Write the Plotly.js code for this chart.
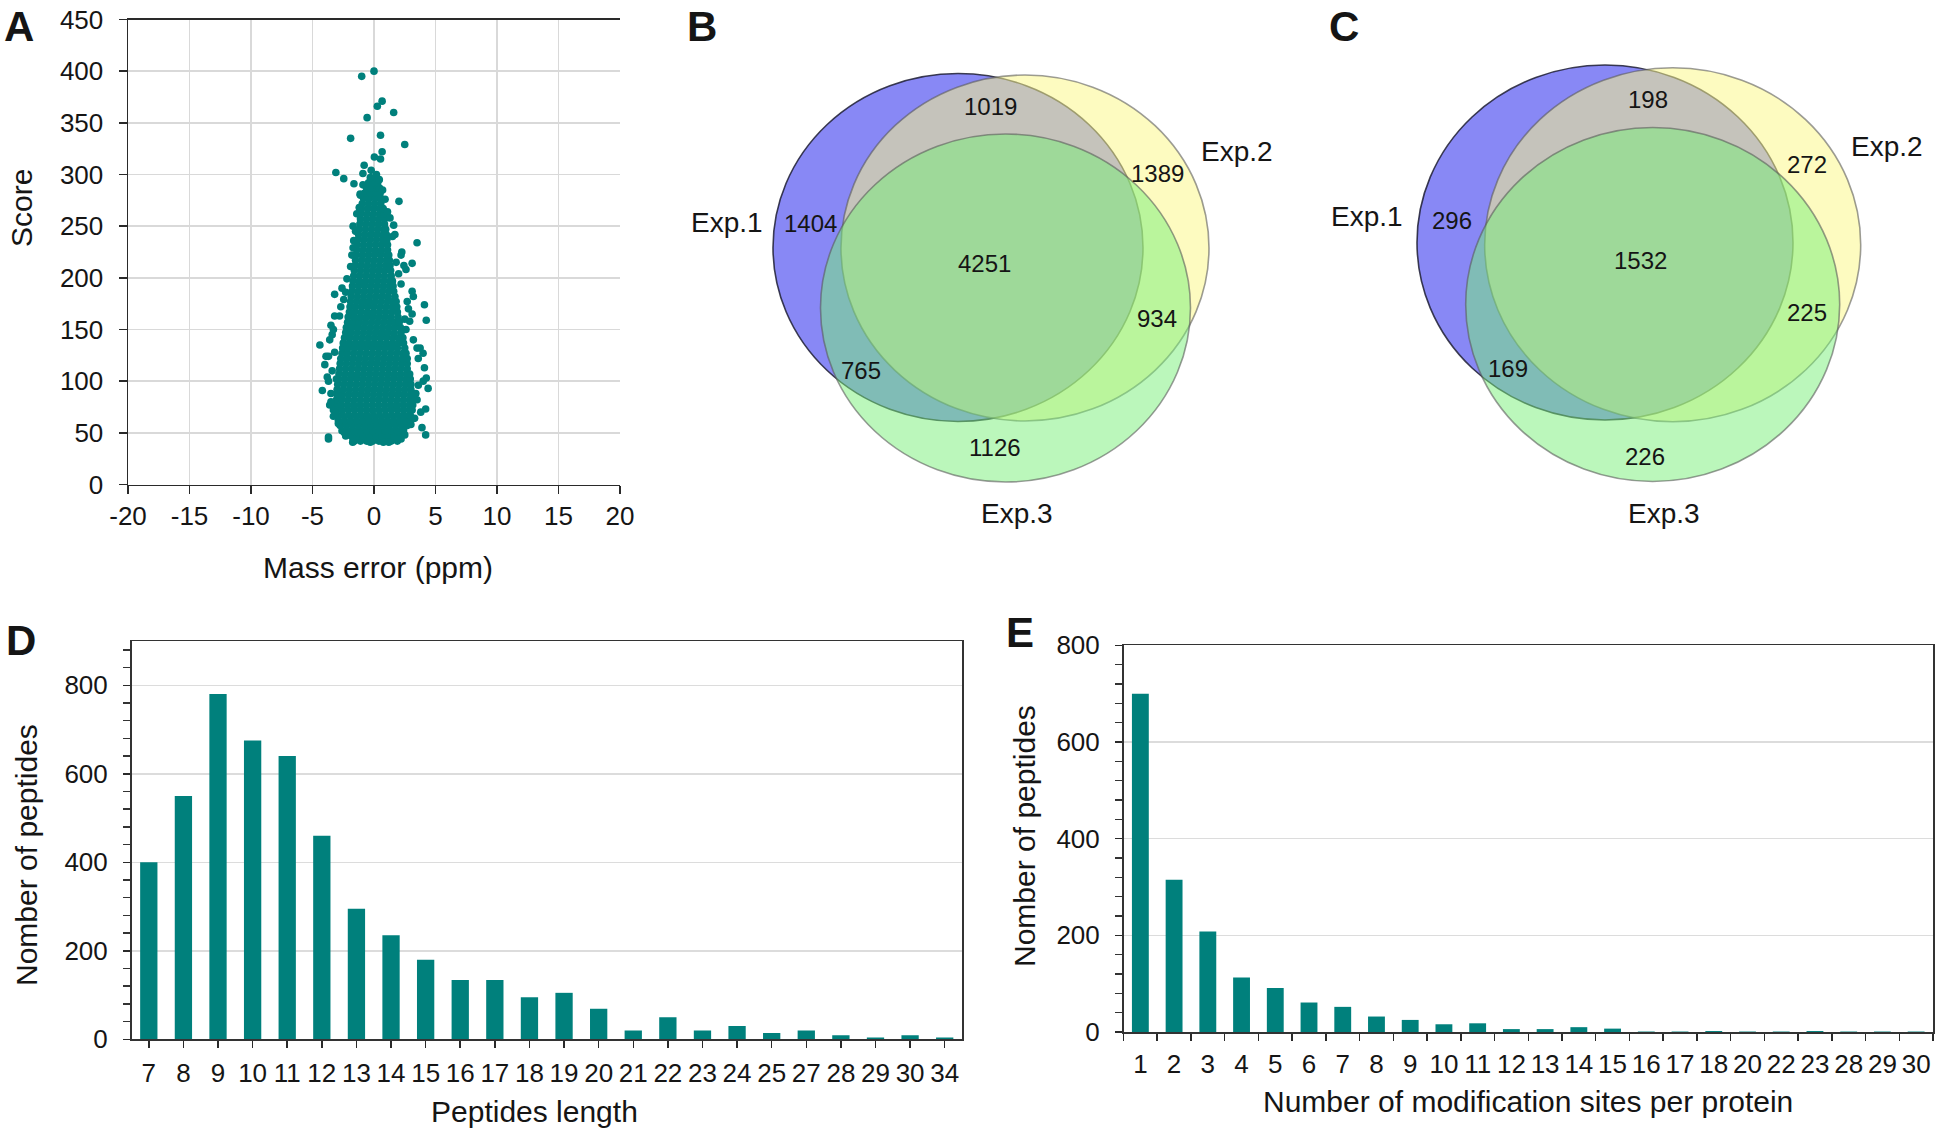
<!DOCTYPE html>
<html>
<head>
<meta charset="utf-8">
<script src="https://cdn.plot.ly/plotly-3.0.1.min.js"></script>
<style>html,body{margin:0;padding:0;background:#fff;}#fig{width:1944px;height:1129px;}</style>
</head>
<body>
<div id="fig"></div>
<script>
// ---------------- DATA ----------------
// Panel A: mass error (ppm) vs score, dense core read row by row: [score, [mass errors]]
const scoreRows = [
 [42,[-1.6,-1.1,-0.6,-0.1,0.4,0.9,1.4,1.9]],
 [47,[-2.3,-1.85,-1.35,-0.85,-0.35,0.15,0.65,1.15,1.65,2.15]],
 [52,[-2.6,-2.1,-1.6,-1.1,-0.6,-0.1,0.4,0.9,1.4,1.9,2.4]],
 [57,[-2.75,-2.25,-1.75,-1.25,-0.75,-0.25,0.25,0.75,1.25,1.75,2.25,2.7]],
 [62,[-2.9,-2.4,-1.9,-1.4,-0.9,-0.4,0.1,0.6,1.1,1.6,2.1,2.6,2.95]],
 [67,[-3.0,-2.55,-2.05,-1.55,-1.05,-0.55,-0.05,0.45,0.95,1.45,1.95,2.45,2.95]],
 [72,[-3.05,-2.6,-2.1,-1.6,-1.1,-0.6,-0.1,0.4,0.9,1.4,1.9,2.4,2.9,3.1]],
 [77,[-3.1,-2.65,-2.15,-1.65,-1.15,-0.65,-0.15,0.35,0.85,1.35,1.85,2.35,2.85,3.15]],
 [82,[-3.05,-2.6,-2.1,-1.6,-1.1,-0.6,-0.1,0.4,0.9,1.4,1.9,2.4,2.9,3.15]],
 [87,[-3.0,-2.55,-2.05,-1.55,-1.05,-0.55,-0.05,0.45,0.95,1.45,1.95,2.45,2.95,3.1]],
 [92,[-3.0,-2.5,-2.0,-1.5,-1.0,-0.5,0.0,0.5,1.0,1.5,2.0,2.5,3.0]],
 [97,[-2.95,-2.45,-1.95,-1.45,-0.95,-0.45,0.05,0.55,1.05,1.55,2.05,2.55,3.0]],
 [102,[-2.9,-2.4,-1.9,-1.4,-0.9,-0.4,0.1,0.6,1.1,1.6,2.1,2.6,2.95]],
 [107,[-2.85,-2.35,-1.85,-1.35,-0.85,-0.35,0.15,0.65,1.15,1.65,2.15,2.65,2.9]],
 [112,[-2.8,-2.3,-1.8,-1.3,-0.8,-0.3,0.2,0.7,1.2,1.7,2.2,2.7]],
 [117,[-2.75,-2.25,-1.75,-1.25,-0.75,-0.25,0.25,0.75,1.25,1.75,2.25,2.7]],
 [122,[-2.7,-2.2,-1.7,-1.2,-0.7,-0.2,0.3,0.8,1.3,1.8,2.3,2.7]],
 [127,[-2.6,-2.15,-1.65,-1.15,-0.65,-0.15,0.35,0.85,1.35,1.85,2.35,2.6]],
 [132,[-2.55,-2.1,-1.6,-1.1,-0.6,-0.1,0.4,0.9,1.4,1.9,2.5]],
 [137,[-2.5,-2.0,-1.5,-1.0,-0.5,0.0,0.5,1.0,1.5,2.0,2.4]],
 [142,[-2.4,-1.95,-1.45,-0.95,-0.45,0.05,0.55,1.05,1.55,2.0,2.35]],
 [147,[-2.3,-1.85,-1.35,-0.85,-0.35,0.15,0.65,1.15,1.65,2.2]],
 [152,[-2.25,-1.8,-1.3,-0.8,-0.3,0.2,0.7,1.2,1.7,2.15]],
 [157,[-2.15,-1.7,-1.2,-0.7,-0.2,0.3,0.8,1.3,1.75,2.05]],
 [162,[-2.1,-1.6,-1.1,-0.6,-0.1,0.4,0.9,1.4,1.95]],
 [167,[-2.0,-1.55,-1.05,-0.55,-0.05,0.45,0.95,1.45,1.9]],
 [172,[-1.95,-1.5,-1.0,-0.5,0.0,0.5,1.0,1.5,1.85]],
 [177,[-1.9,-1.4,-0.9,-0.4,0.1,0.6,1.1,1.55,1.8]],
 [182,[-1.85,-1.35,-0.85,-0.35,0.15,0.65,1.15,1.7]],
 [187,[-1.8,-1.3,-0.8,-0.3,0.2,0.7,1.2,1.6]],
 [192,[-1.75,-1.25,-0.75,-0.25,0.25,0.75,1.25,1.55]],
 [197,[-1.7,-1.2,-0.7,-0.2,0.3,0.8,1.3,1.5]],
 [202,[-1.65,-1.15,-0.65,-0.15,0.35,0.85,1.4]],
 [207,[-1.6,-1.1,-0.6,-0.1,0.4,0.9,1.35]],
 [212,[-1.55,-1.05,-0.55,-0.05,0.45,0.95,1.3]],
 [217,[-1.5,-1.0,-0.5,0.0,0.5,1.0,1.25]],
 [222,[-1.45,-0.95,-0.45,0.05,0.55,1.05,1.2]],
 [227,[-1.4,-0.9,-0.4,0.1,0.6,1.1]],
 [232,[-1.35,-0.85,-0.35,0.15,0.65,1.1]],
 [237,[-1.3,-0.8,-0.3,0.2,0.7,1.05]],
 [242,[-1.25,-0.75,-0.25,0.25,0.75,1.0]],
 [247,[-1.2,-0.7,-0.2,0.3,0.8,0.95]],
 [252,[-1.15,-0.65,-0.15,0.35,0.85]],
 [257,[-1.1,-0.6,-0.1,0.4,0.85]],
 [262,[-1.05,-0.55,-0.05,0.45,0.8]],
 [267,[-1.0,-0.5,0.0,0.5,0.75]],
 [272,[-0.95,-0.45,0.05,0.55]],
 [277,[-0.85,-0.4,0.1,0.55]],
 [282,[-0.75,-0.3,0.2,0.5]],
 [287,[-0.6,-0.2,0.25,0.45]],
 [292,[-0.45,-0.05,0.3]],
 [297,[-0.3,0.1]]
];
// Panel A: scattered points around the core
const outlierMassErr = [-3.3,-3.5,-3.2,-3.2,-2.46,-2.2,-2.6,-4.4,-3.7,-3.9,-4.0,-3.8,-3.7,-4.2,-3.6,-3.5,-3.7,-3.7,-3.06,-3.2,-2.9,-3.3,-3.3,-3.5,-3.4,-3.6,-3.4,-2.8,-2.7,-2.3,-1.9,-1.8,-1.7,-1.65,-1.5,-1.7,-1.4,-1.2,-1.1,-0.9,-0.8,-0.9,-1.13,-1.63,-2.46,-3.1,-1.9,-1.0,-0.56,
 0,0.66,0.27,1.6,0.53,2.5,0.66,0.03,0.53,-0.23,0.43,0.2,0.7,0.9,2.03,1.1,1.6,1.3,1.5,1.7,3.5,2.26,2.2,3.1,2.43,2.6,2.0,1.8,2.2,3.1,3.2,2.7,2.8,4.1,3.1,2.9,4.25,2.5,2.6,3.2,3.5,3.75,3.99,3.6,4.1,4.25,4.4,4.0,3.6,3.4,3.5,4.2,3.8,3.3,3.9,4.2,3.0,2.5,2.2,1.9,0.76,1.2,-0.3,-1.73,-1.7,-2.4];
const outlierScore = [150,154,163,184,179,199,190,135,124,124,116,104,100,91,77,80,46,44,102,128,59,66,72,88,110,140,145,163,172,186,211,222,229,236,245,250,262,268,280,290,309,301,281,291,296,302,335,395,355,
 400,371,366,360,338,329,322,317,315,304,295,300,285,276,274,264,251,258,240,242,234,225,222,214,212,208,204,215,194,187,182,177,170,174,165,158,159,160,150,140,132,132,127,122,113,103,93,100,96,88,82,73,70,64,55,48,58,48,44,44,41,41,41,41,44,50];
// Panel A tick labels (plain hyphen minus, as printed)
const massTickVals = [-20,-15,-10,-5,0,5,10,15,20];
const massTickText = ['-20','-15','-10','-5','0','5','10','15','20'];

// Panel B / C: Venn region counts
const vennRegions = ['Exp.1 only','Exp.1 & Exp.2','Exp.2 only','Exp.1 & Exp.2 & Exp.3','Exp.1 & Exp.3','Exp.2 & Exp.3','Exp.3 only'];
const vennSets = ['Exp.1','Exp.2','Exp.3'];
const vennCountsB = [1404,1019,1389,4251,765,934,1126];
const vennCountsC = [296,198,272,1532,169,225,226];

// Panel D: peptide length distribution
const lengthCats = ['7','8','9','10','11','12','13','14','15','16','17','18','19','20','21','22','23','24','25','27','28','29','30','34'];
const lengthCounts = [400,550,780,675,640,460,295,235,180,134,134,95,105,69,20,50,20,30,14,20,9,4,9,4];

// Panel E: modification sites per protein
const siteCats = ['1','2','3','4','5','6','7','8','9','10','11','12','13','14','15','16','17','18','20','22','23','28','29','30'];
const siteCounts = [700,315,208,113,91,61,52,32,25,16,18,6,6,10,7,1,1,2,1,1,2,1,1,1];

// ---------------- LAYOUT / STYLE ----------------
const W = 1944, H = 1129;
const fx = x => x / W;
const fy = y => 1 - y / H;
const FONT = 'Liberation Sans, Arial, Helvetica, sans-serif';
const TEAL = '#00807c';
const TXT = '#151515';

const massErr = [], score = [];
scoreRows.forEach(r => r[1].forEach(v => { massErr.push(v); score.push(r[0]); }));
outlierMassErr.forEach((v, i) => { massErr.push(v); score.push(outlierScore[i]); });

const traces = [
  {type:'scatter', mode:'markers', x:massErr, y:score, xaxis:'x', yaxis:'y',
   marker:{color:TEAL, size:7.6, line:{width:0}}, hoverinfo:'x+y'},
  {type:'bar', x:lengthCats, y:lengthCounts, xaxis:'x2', yaxis:'y2',
   marker:{color:TEAL, line:{width:0}}},
  {type:'bar', x:siteCats, y:siteCounts, xaxis:'x3', yaxis:'y3',
   marker:{color:TEAL, line:{width:0}}}
];

const tickFont = {family:FONT, size:26, color:TXT};
const axLine = {showline:true, linecolor:'#2a2a2a', linewidth:1.5, ticks:'outside', ticklen:8, tickwidth:1.5, tickcolor:'#2a2a2a', zeroline:false, tickfont:tickFont, fixedrange:true};

// Venn geometry [cx, cy, rx, ry] in page pixels
const geomB = [[958,247.5,185,174],[1025,248,184,173],[1005.5,308,185,174]];
const geomC = [[1605,242.5,188,177.5],[1672.7,244.8,188,177],[1652.7,304.5,187,177]];
const vennFill = ['rgba(17,17,235,0.5)','rgba(251,247,136,0.53)','rgba(119,239,119,0.5)'];
const vennLine = ['rgba(30,30,50,0.85)','rgba(90,90,90,0.6)','rgba(90,90,90,0.6)'];
const numPosB = [[810,223],[991,107],[1157,173],[985,263],[861,370],[1157,318],[995,447]];
const numPosC = [[1452,220],[1648,99],[1807,164],[1640,260],[1508,369],[1807,313],[1645,456]];
const setPosB = [[727,222],[1237,152],[1017,513]];
const setPosC = [[1367,217],[1887,146],[1664,513]];

const shapes = [];
function addVenn(geom){
  geom.forEach((g, i) => {
    shapes.push({type:'circle', xref:'paper', yref:'paper',
      x0:fx(g[0]-g[2]), x1:fx(g[0]+g[2]), y0:fy(g[1]+g[3]), y1:fy(g[1]-g[3]),
      fillcolor:vennFill[i], line:{color:vennLine[i], width:1.6}, layer:'above'});
  });
}
addVenn(geomB); addVenn(geomC);

const annotations = [];
function txt(x, y, text, size, extra){
  annotations.push(Object.assign({xref:'paper', yref:'paper', x:fx(x), y:fy(y), text:text, showarrow:false,
    xanchor:'center', yanchor:'middle', font:{family:FONT, size:size, color:TXT}}, extra||{}));
}
vennCountsB.forEach((v, i) => txt(numPosB[i][0], numPosB[i][1], String(v), 24));
vennCountsC.forEach((v, i) => txt(numPosC[i][0], numPosC[i][1], String(v), 24));
vennSets.forEach((s, i) => { txt(setPosB[i][0], setPosB[i][1], s, 28); txt(setPosC[i][0], setPosC[i][1], s, 28); });

// axis titles
txt(22, 208, 'Score', 30, {textangle:-90});
txt(378, 567, 'Mass error (ppm)', 30);
txt(26, 855, 'Nomber of peptides', 30, {textangle:-90});
txt(534, 1111, 'Peptides length', 30);
txt(1024, 836, 'Nomber of peptides', 30, {textangle:-90});
txt(1528, 1101, 'Number of modification sites per protein', 30);

// panel letters
[['A',19,26],['B',702,26],['C',1344,26],['D',21,640],['E',1020,632]].forEach(p =>
  txt(p[1], p[2], '<b>'+p[0]+'</b>', 42));

const layout = {
  width:W, height:H, margin:{l:0,r:0,t:0,b:0}, paper_bgcolor:'#fff', plot_bgcolor:'rgba(0,0,0,0)',
  showlegend:false, font:{family:FONT, color:TXT}, bargap:0.5,
  xaxis: Object.assign({}, axLine, {domain:[fx(128), fx(620)], anchor:'y', range:[-20,20],
    tickmode:'array', tickvals:massTickVals, ticktext:massTickText,
    showgrid:true, gridcolor:'#d9d9d9', gridwidth:1.5, mirror:true, ticklabelstandoff:0, tickangle:0}),
  yaxis: Object.assign({}, axLine, {domain:[fy(484.5), fy(19.5)], anchor:'x', range:[0,450], dtick:50,
    showgrid:true, gridcolor:'#d9d9d9', gridwidth:1.5, ticklabelstandoff:10}),
  xaxis2: Object.assign({}, axLine, {domain:[fx(131.5), fx(962)], anchor:'y2', type:'category', ticklen:7, tickangle:0,
    showgrid:false, mirror:true, linecolor:'#333', ticklabelstandoff:3}),
  yaxis2: Object.assign({}, axLine, {domain:[fy(1039.3), fy(641)], anchor:'x2', range:[0,900], dtick:200, ticklen:7,
    showgrid:true, gridcolor:'#dcdcdc', gridwidth:1.5, mirror:true, linecolor:'#333', ticklabelstandoff:10,
    minor:{dtick:40, ticks:'outside', ticklen:7, tickwidth:1.5, tickcolor:'#333', showgrid:false}}),
  xaxis3: Object.assign({}, axLine, {domain:[fx(1123.5), fx(1933)], anchor:'y3', type:'category', ticklen:7, tickangle:0,
    tickson:'boundaries', showgrid:false, mirror:true, linecolor:'#333', ticklabelstandoff:8}),
  yaxis3: Object.assign({}, axLine, {domain:[fy(1032), fy(645.3)], anchor:'x3', range:[0,800], dtick:200, ticklen:7,
    showgrid:true, gridcolor:'#dcdcdc', gridwidth:1.5, mirror:true, linecolor:'#333', ticklabelstandoff:10,
    minor:{dtick:40, ticks:'outside', ticklen:7, tickwidth:1.5, tickcolor:'#333', showgrid:false}}),
  shapes:shapes, annotations:annotations
};

Plotly.newPlot('fig', traces, layout, {staticPlot:true, displayModeBar:false});
</script>
</body>
</html>
